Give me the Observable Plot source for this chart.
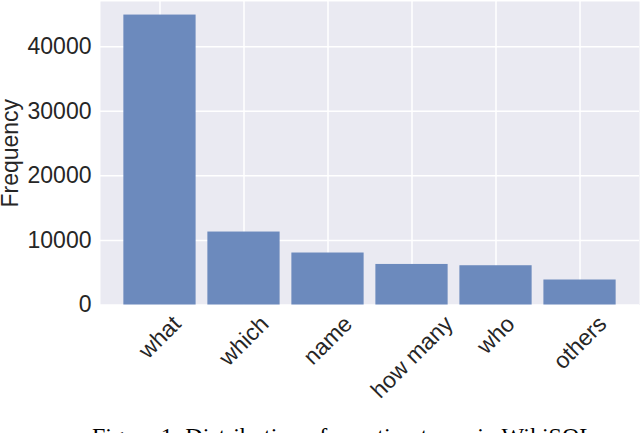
<!DOCTYPE html>
<html><head><meta charset="utf-8">
<script src="https://cdn.jsdelivr.net/npm/d3@7"></script>
<script src="https://cdn.jsdelivr.net/npm/@observablehq/plot@0.6"></script>
<style>
html,body{margin:0;padding:0;background:#fff;}
body{width:640px;height:433px;overflow:hidden;position:relative;}
#chart{position:absolute;left:0;top:0;}
#cap{position:absolute;left:92px;top:424px;font-family:"Liberation Serif","Times New Roman",serif;font-size:24px;line-height:24px;white-space:nowrap;color:#000;}
</style></head>
<body>
<div id="chart"></div>
<div id="cap"></div>
<script>
const categories = ["what", "which", "name", "how many", "who", "others"];
const frequencies = [44900, 11300, 8050, 6280, 6080, 3870];
const yTicks = [0, 10000, 20000, 30000, 40000];
const yLabel = "Frequency";
const caption = "Figure 1: Distribution of question types in WikiSQL";

const table = categories.map((c, i) => ({category: c, frequency: frequencies[i]}));

const FS = 23;
const FONT = "'Liberation Sans', Arial, Helvetica, sans-serif";
const ctx = document.createElement("canvas").getContext("2d");
ctx.font = `${FS}px 'Liberation Sans'`;
const labelMarks = categories.map(c => {
  const w = ctx.measureText(c).width;
  return Plot.text([c], {
    x: d => d, text: d => d, frameAnchor: "bottom",
    rotate: -45, textAnchor: "middle", lineAnchor: "middle",
    dy: 7 + (w + FS) * Math.SQRT1_2 / 2,
    fontSize: FS, fill: "#262626"
  });
});

const chart = Plot.plot({
  width: 640, height: 410,
  marginLeft: 100, marginRight: 1, marginTop: 1, marginBottom: 105.5,
  style: {fontFamily: FONT, background: "transparent"},
  x: {domain: categories, paddingInner: 0.14, paddingOuter: 0.278, align: 0.5, round: false, axis: null},
  y: {domain: [0, 47000], axis: null},
  marks: [
    Plot.frame({fill: "#EAEAF2", stroke: null}),
    Plot.gridY(yTicks, {stroke: "#ffffff", strokeOpacity: 1, strokeWidth: 1.5}),
    Plot.gridX(categories, {stroke: "#ffffff", strokeOpacity: 1, strokeWidth: 1.5}),
    Plot.barY(table, {x: "category", y: "frequency", fill: "#6C8ABD"}),
    Plot.axisY(yTicks, {tickSize: 0, tickPadding: 9, tickFormat: d3.format("d"), fontSize: FS, fill: "#262626", label: null}),
    Plot.text([yLabel], {text: d => d, frameAnchor: "left", rotate: -90, dx: -90, textAnchor: "middle", lineAnchor: "middle", fontSize: FS, fill: "#262626"}),
    ...labelMarks
  ]
});
document.getElementById("chart").appendChild(chart);
document.getElementById("cap").textContent = caption;
</script>
</body></html>
